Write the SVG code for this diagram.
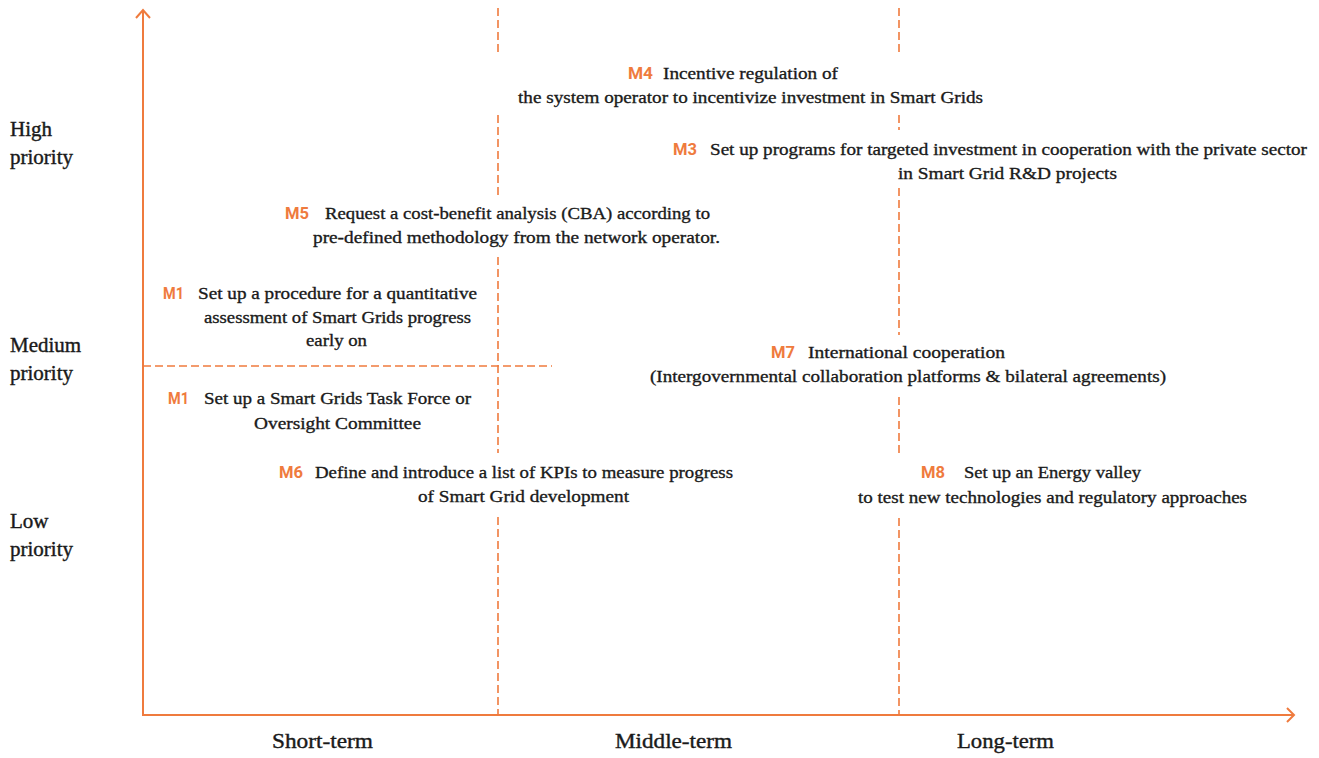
<svg xmlns="http://www.w3.org/2000/svg" width="1319" height="758" viewBox="0 0 1319 758">
  <style>
    .axis { stroke: #EF7B3E; stroke-width: 2; fill: none; }
    .dash { stroke: #EF7B3E; stroke-width: 1.6; fill: none; stroke-dasharray: 8 4; }
    .lbl { font-size: 17.5px; fill: #1a1a1a; stroke: #1a1a1a; stroke-width: 0.35px; }
    .cat { font-size: 21px; fill: #1a1a1a; stroke: #1a1a1a; stroke-width: 0.4px; }
    .tag { font-weight: 700; font-size: 16px; fill: #EF7B3E; }
  </style>
  <rect width="1319" height="758" fill="#ffffff"/>

  <!-- axes and grid lines -->
  <g id="connectors">
    <line class="axis" x1="143" y1="11" x2="143" y2="715"/>
    <polyline class="axis" points="136,18 143,10 150,18"/>
    <line class="axis" x1="142" y1="715" x2="1293" y2="715"/>
    <polyline class="axis" points="1287,708 1294,715 1287,722"/>

    <path class="dash" d="M498 8V55M498 115V195M498 257V453M498 517V715"/>
    <path class="dash" d="M899 8V55M899 115V130M899 188V335M899 397V455M899 518V715"/>
    <path class="dash" d="M143 366H552"/>
  </g>

  <g font-family="Liberation Serif, DejaVu Serif, serif">
    <!-- priority levels -->
    <g id="priority-high">
      <text class="cat" x="10" y="136">High</text>
      <text class="cat" x="10" y="164">priority</text>
    </g>
    <g id="priority-medium">
      <text class="cat" x="10" y="352">Medium</text>
      <text class="cat" x="10" y="380">priority</text>
    </g>
    <g id="priority-low">
      <text class="cat" x="10" y="528">Low</text>
      <text class="cat" x="10" y="556">priority</text>
    </g>

    <!-- time horizons -->
    <g id="term-short"><text class="cat" x="272" y="748" textLength="101" lengthAdjust="spacingAndGlyphs">Short-term</text></g>
    <g id="term-middle"><text class="cat" x="615" y="748" textLength="117" lengthAdjust="spacingAndGlyphs">Middle-term</text></g>
    <g id="term-long"><text class="cat" x="957" y="748" textLength="97" lengthAdjust="spacingAndGlyphs">Long-term</text></g>
  </g>

  <!-- measures: orange tag followed by description lines -->
  <g font-family="Liberation Serif, DejaVu Serif, serif">
    <g id="m4">
      <text class="tag" font-family="Roboto, Liberation Sans, sans-serif" x="628" y="79" textLength="25" lengthAdjust="spacingAndGlyphs">M4</text>
      <text class="lbl" x="663" y="79" textLength="175" lengthAdjust="spacingAndGlyphs">Incentive regulation of</text>
      <text class="lbl" x="518" y="103" textLength="465" lengthAdjust="spacingAndGlyphs">the system operator to incentivize investment in Smart Grids</text>
    </g>
    <g id="m3">
      <text class="tag" font-family="Roboto, Liberation Sans, sans-serif" x="673" y="155" textLength="24" lengthAdjust="spacingAndGlyphs">M3</text>
      <text class="lbl" x="710" y="155" textLength="597" lengthAdjust="spacingAndGlyphs">Set up programs for targeted investment in cooperation with the private sector</text>
      <text class="lbl" x="898" y="179" textLength="219" lengthAdjust="spacingAndGlyphs">in Smart Grid R&amp;D projects</text>
    </g>
    <g id="m5">
      <text class="tag" font-family="Roboto, Liberation Sans, sans-serif" x="285" y="219" textLength="24" lengthAdjust="spacingAndGlyphs">M5</text>
      <text class="lbl" x="325" y="219" textLength="385" lengthAdjust="spacingAndGlyphs">Request a cost-benefit analysis (CBA) according to</text>
      <text class="lbl" x="313" y="243" textLength="407" lengthAdjust="spacingAndGlyphs">pre-defined methodology from the network operator.</text>
    </g>
    <g id="m1-assessment">
      <text class="tag" font-family="Roboto, Liberation Sans, sans-serif" x="163" y="299" textLength="21" lengthAdjust="spacingAndGlyphs">M1</text>
      <text class="lbl" x="198" y="299" textLength="279" lengthAdjust="spacingAndGlyphs">Set up a procedure for a quantitative</text>
      <text class="lbl" x="204" y="323" textLength="267" lengthAdjust="spacingAndGlyphs">assessment of Smart Grids progress</text>
      <text class="lbl" x="306" y="346" textLength="61" lengthAdjust="spacingAndGlyphs">early on</text>
    </g>
    <g id="m1-taskforce">
      <text class="tag" font-family="Roboto, Liberation Sans, sans-serif" x="168" y="404" textLength="21" lengthAdjust="spacingAndGlyphs">M1</text>
      <text class="lbl" x="204" y="404" textLength="267" lengthAdjust="spacingAndGlyphs">Set up a Smart Grids Task Force or</text>
      <text class="lbl" x="254" y="429" textLength="167" lengthAdjust="spacingAndGlyphs">Oversight Committee</text>
    </g>
    <g id="m6">
      <text class="tag" font-family="Roboto, Liberation Sans, sans-serif" x="279" y="478" textLength="24" lengthAdjust="spacingAndGlyphs">M6</text>
      <text class="lbl" x="315" y="478" textLength="418" lengthAdjust="spacingAndGlyphs">Define and introduce a list of KPIs to measure progress</text>
      <text class="lbl" x="418" y="502" textLength="211" lengthAdjust="spacingAndGlyphs">of Smart Grid development</text>
    </g>
    <g id="m7">
      <text class="tag" font-family="Roboto, Liberation Sans, sans-serif" x="771" y="358" textLength="24" lengthAdjust="spacingAndGlyphs">M7</text>
      <text class="lbl" x="808" y="358" textLength="197" lengthAdjust="spacingAndGlyphs">International cooperation</text>
      <text class="lbl" x="650" y="382" textLength="516" lengthAdjust="spacingAndGlyphs">(Intergovernmental collaboration platforms &amp; bilateral agreements)</text>
    </g>
    <g id="m8">
      <text class="tag" font-family="Roboto, Liberation Sans, sans-serif" x="921" y="478" textLength="24" lengthAdjust="spacingAndGlyphs">M8</text>
      <text class="lbl" x="964" y="478" textLength="177" lengthAdjust="spacingAndGlyphs">Set up an Energy valley</text>
      <text class="lbl" x="858" y="503" textLength="389" lengthAdjust="spacingAndGlyphs">to test new technologies and regulatory approaches</text>
    </g>
  </g>
</svg>
